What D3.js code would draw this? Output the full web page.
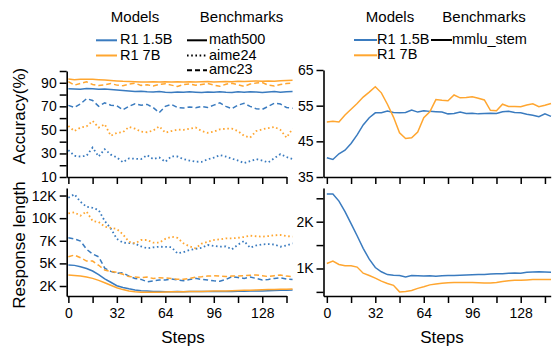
<!DOCTYPE html>
<html>
<head>
<meta charset="utf-8">
<script src="https://cdn.jsdelivr.net/npm/d3@7"></script>
<style>
  body { margin: 0; background: #fff; }
  svg text { font-family: "Liberation Sans", Arial, Helvetica, sans-serif; }
</style>
</head>
<body>
<div id="chart"></div>
<script>
// training steps (sampled every 4 steps)
const steps = [0, 4, 8, 12, 16, 20, 24, 28, 32, 36, 40, 44, 48, 52, 56, 60, 64, 68, 72, 76,
  80, 84, 88, 92, 96, 100, 104, 108, 112, 116, 120, 124, 128, 132, 136, 140, 144, 148];

const models = ['R1 1.5B', 'R1 7B'];
const modelColors = ['#3a7bbf', '#ffa630'];
const benchmarksLeft = ['math500', 'aime24', 'amc23'];
const benchmarksRight = ['mmlu_stem'];

// accuracy (%) - left top
const accMath500_15B = [85.0, 84.8, 84.5, 85.2, 84.9, 84.6, 84.7, 84.2, 83.8, 83.5, 83.0, 82.6, 82.9, 82.4, 82.1, 82.5, 82.0, 81.8, 82.2, 81.9,
  82.3, 82.0, 81.7, 82.1, 81.9, 82.4, 82.0, 81.8, 82.3, 82.0, 82.4, 82.1, 81.8, 82.2, 82.5, 82.0, 82.3, 82.6];
const accMath500_7B = [93.2, 92.5, 93.0, 93.1, 92.9, 92.6, 92.4, 92.0, 91.6, 91.2, 91.0, 90.8, 90.7, 90.6, 90.8, 90.7, 90.9, 90.6, 90.8, 90.7,
  90.9, 90.6, 90.8, 91.0, 90.7, 90.9, 91.0, 90.8, 91.2, 91.0, 91.3, 91.5, 91.2, 91.6, 91.4, 91.8, 92.0, 92.2];
const accAime24_15B = [32.8, 28, 27.4, 28, 35, 27.4, 33.6, 29, 26.6, 22.5, 25.8, 25.5, 25.2, 28.5, 25.2, 26.6, 22.9, 27.5, 27.4, 25.2,
  24, 23, 22.9, 25, 26.5, 28.5, 27.4, 25.5, 24, 21.8, 23.5, 25.2, 24, 22.4, 26, 29.4, 27, 25.2];
const accAime24_7B = [53.3, 49, 52, 53, 57.6, 52, 54.8, 45, 47.5, 48, 52.5, 51, 48.5, 48, 49.5, 53, 47.7, 49, 50.2, 50,
  51, 52, 49, 47.5, 48.5, 50.5, 51, 51, 49, 45, 43.5, 49, 50.5, 51.5, 52.5, 50, 43.5, 51];
const accAmc23_15B = [70.8, 69, 72, 76.5, 75, 70, 73, 71, 70.5, 67, 70, 72.2, 71, 71.6, 69, 64.6, 70, 71.6, 69, 68.5,
  69.5, 68.8, 70, 69, 71, 73, 70, 68, 71, 72.5, 70, 68, 67.4, 70, 72.6, 72, 69, 68.4];
const accAmc23_7B = [91.0, 88.0, 89.5, 90.8, 88.6, 87.6, 88.2, 89.4, 88.0, 87.5, 88.8, 89.6, 87.8, 88.4, 87.2, 88.6, 89.2, 88.0, 86.8, 88.5,
  89.0, 87.9, 88.6, 89.4, 88.1, 87.0, 88.8, 89.6, 88.3, 86.9, 88.9, 89.8, 90.2, 88.0, 87.2, 88.6, 89.4, 89.8];

// response length (tokens) - left bottom
const lenMath500_15B = [4630, 4590, 4450, 4250, 3990, 3600, 3150, 2800, 2430, 2250, 2100, 1980, 1900, 1860, 1830, 1810, 1800, 1800, 1810, 1800,
  1810, 1820, 1810, 1820, 1830, 1820, 1830, 1820, 1840, 1850, 1860, 1870, 1880, 1900, 1920, 1940, 1960, 1980];
const lenMath500_7B = [3570, 3520, 3460, 3350, 3210, 3000, 2750, 2480, 2220, 2020, 1880, 1800, 1740, 1730, 1730, 1740, 1760, 1780, 1790, 1800,
  1810, 1820, 1830, 1840, 1860, 1870, 1880, 1900, 1920, 1940, 1960, 1980, 2000, 2020, 2040, 2050, 2060, 2080];
const lenAime24_15B = [11770, 12130, 11340, 10800, 10700, 10460, 9300, 8500, 7400, 7000, 6950, 6900, 6600, 6400, 6500, 6570, 6550, 6520, 5870, 6000,
  6220, 6350, 6460, 6750, 6650, 6570, 6600, 6290, 6800, 7170, 6460, 6700, 6820, 6850, 6800, 6570, 6700, 6930];
const lenAime24_7B = [10110, 10220, 9860, 10300, 9300, 9200, 8700, 8560, 8450, 7880, 7100, 6930, 7280, 7280, 7000, 7000, 7400, 7630, 7500, 6930,
  6600, 6400, 6900, 7100, 7280, 7350, 7460, 7450, 7520, 7600, 7740, 7680, 7630, 7700, 7780, 7810, 7700, 7630];
const lenAmc23_15B = [7520, 7400, 7170, 6300, 5800, 5500, 4300, 3950, 3750, 3800, 3450, 3200, 3100, 2850, 2950, 3040, 3050, 3140, 3050, 2950,
  3100, 3210, 3100, 3040, 2950, 2900, 3100, 3390, 3300, 3210, 3350, 3200, 3040, 3100, 3200, 3280, 3150, 3100];
const lenAmc23_7B = [5510, 5690, 5400, 5050, 5050, 4600, 4100, 3950, 3850, 3640, 3400, 3350, 3280, 3350, 3200, 3280, 3250, 3200, 3110, 3120,
  3200, 3350, 3390, 3450, 3490, 3450, 3400, 3450, 3470, 3500, 3540, 3570, 3500, 3400, 3500, 3570, 3450, 3390];

// mmlu_stem - right panels
const mmluAcc_15B = [40.4, 39.9, 41.5, 42.5, 44.4, 46.8, 49.6, 51.6, 53, 53, 53.5, 53.1, 53, 53.1, 53.8, 53.2, 53.6, 53.4, 53.3, 53.2,
  52.7, 52.8, 53.2, 52.8, 52.9, 52.7, 52.8, 52.9, 52.8, 53.3, 53.4, 53.1, 53.0, 52.6, 52.3, 51.9, 52.7, 52.0];
const mmluAcc_7B = [50.4, 50.6, 50.4, 52.4, 54, 55.6, 57.4, 58.8, 60.3, 58.6, 55.4, 51.8, 47.4, 45.8, 46, 47.6, 51.6, 53.3, 56.7, 56.5,
  56.4, 58, 57.2, 57.3, 57.5, 57.1, 56.6, 53.7, 53.6, 55.4, 54.8, 54.8, 54.7, 55.2, 55.5, 54.7, 55.1, 55.6];
const mmluLen_15B = [2594, 2594, 2440, 2215, 1960, 1700, 1430, 1200, 1020, 930, 870, 856, 850, 820, 850, 845, 840, 845, 835, 845,
  850, 848, 855, 860, 865, 870, 870, 880, 885, 890, 900, 905, 900, 920, 925, 928, 925, 920];
const mmluLen_7B = [1107, 1157, 1086, 1060, 1056, 1030, 900, 850, 795, 730, 680, 640, 500, 510, 530, 575, 610, 650, 670, 683,
  695, 700, 700, 700, 700, 695, 688, 690, 700, 720, 740, 750, 750, 755, 762, 765, 765, 765];

// tick values
const xTicks = [0, 16, 32, 48, 64, 80, 96, 112, 128, 144];
const xLabels = [0, 32, 64, 96, 128];
const accTicks = [10, 20, 30, 40, 50, 60, 70, 80, 90, 100];
const accLabels = [10, 30, 50, 70, 90];
const lenTicks = [2400, 4800, 7200, 9600, 12000];
const mmluAccTicks = [35, 45, 55, 65];
const mmluLenTicks = [500, 1000, 1500, 2000, 2500];
const mmluLenLabels = [1000, 2000];

const dashFor = { math500: null, aime24: '1.6,2.6', amc23: '5,3', mmlu_stem: null };

const svg = d3.select('#chart').append('svg')
  .attr('width', 555)
  .attr('height', 355);

// scales (left / right column share the same step spacing)
const xLeft = d3.scaleLinear().domain([-1.1, 144]).range([66.7, 286.5]);
const xRight = d3.scaleLinear().domain([-2.2, 147.8]).range([323.5, 550.7]);

const yAccLeft = d3.scaleLinear().domain([10, 100]).range([177, 71]);
const yLenLeft = d3.scaleLinear().domain([1340, 12800]).range([296, 188]);
const yAccRight = d3.scaleLinear().domain([35, 65]).range([177, 70]);
const yLenRight = d3.scaleLinear().domain([412, 2720]).range([296, 188]);

function styleAxis(g) {
  g.selectAll('.domain').attr('stroke', '#000').attr('stroke-width', 1.6);
  g.selectAll('.tick line').attr('stroke', '#000').attr('stroke-width', 1.5);
  g.selectAll('.tick text').attr('font-size', 14).attr('fill', '#000')
    .style('font-family', '"Liberation Sans", Arial, sans-serif');
}

function drawPanel(x, y, xAxisY, yTickVals, yFmt, showXLabels, series) {
  const xAxis = d3.axisBottom(x).tickValues(xTicks).tickSizeInner(7).tickSizeOuter(0).tickPadding(5)
    .tickFormat((d) => (showXLabels && xLabels.includes(d) ? d : ''));
  svg.append('g')
    .attr('transform', `translate(0, ${xAxisY})`)
    .call(xAxis)
    .call(styleAxis);

  const yAxis = d3.axisLeft(y).tickValues(yTickVals).tickSizeInner(7).tickSizeOuter(0).tickPadding(3)
    .tickFormat(yFmt);
  svg.append('g')
    .attr('transform', `translate(${x.range()[0]}, 0)`)
    .call(yAxis)
    .call(styleAxis);

  series.forEach((s) => {
    const line = d3.line()
      .x((d, i) => x(steps[i]))
      .y((d) => y(d));
    svg.append('path')
      .datum(s.values)
      .attr('fill', 'none')
      .attr('stroke', modelColors[s.model])
      .attr('stroke-width', s.dash === '1.6,2.6' ? 1.8 : 1.5)
      .attr('stroke-dasharray', s.dash)
      .attr('d', line);
  });
}

// left top: accuracy
drawPanel(xLeft, yAccLeft, 177, accTicks, (d) => (accLabels.includes(d) ? d : ''), false, [
  { values: accAime24_15B, model: 0, dash: dashFor.aime24 },
  { values: accAime24_7B, model: 1, dash: dashFor.aime24 },
  { values: accAmc23_15B, model: 0, dash: dashFor.amc23 },
  { values: accAmc23_7B, model: 1, dash: dashFor.amc23 },
  { values: accMath500_15B, model: 0, dash: dashFor.math500 },
  { values: accMath500_7B, model: 1, dash: dashFor.math500 },
]);

// left bottom: response length
drawPanel(xLeft, yLenLeft, 296, lenTicks, (d) => Math.round(d / 1000) + 'K', true, [
  { values: lenAime24_15B, model: 0, dash: dashFor.aime24 },
  { values: lenAime24_7B, model: 1, dash: dashFor.aime24 },
  { values: lenAmc23_15B, model: 0, dash: dashFor.amc23 },
  { values: lenAmc23_7B, model: 1, dash: dashFor.amc23 },
  { values: lenMath500_15B, model: 0, dash: dashFor.math500 },
  { values: lenMath500_7B, model: 1, dash: dashFor.math500 },
]);

// right top: mmlu accuracy
drawPanel(xRight, yAccRight, 177, mmluAccTicks, (d) => d, false, [
  { values: mmluAcc_15B, model: 0, dash: null },
  { values: mmluAcc_7B, model: 1, dash: null },
]);

// right bottom: mmlu response length
drawPanel(xRight, yLenRight, 296, mmluLenTicks, (d) => (mmluLenLabels.includes(d) ? d / 1000 + 'K' : ''), true, [
  { values: mmluLen_15B, model: 0, dash: null },
  { values: mmluLen_7B, model: 1, dash: null },
]);

// axis titles
function label(txt, x, y, rotate) {
  svg.append('text')
    .attr('transform', `translate(${x}, ${y})` + (rotate ? ' rotate(-90)' : ''))
    .attr('text-anchor', 'middle')
    .attr('font-size', 17)
    .attr('fill', '#000')
    .text(txt);
}
label('Accuracy(%)', 25, 116, true);
label('Response length', 25, 245, true);
label('Steps', 183, 343, false);
label('Steps', 442, 343, false);

// legends
function legend(cfg) {
  const g = svg.append('g');
  g.append('text').attr('x', cfg.modelsX).attr('y', 21.5).attr('text-anchor', 'middle')
    .attr('font-size', 15).text('Models');
  g.append('text').attr('x', cfg.benchX).attr('y', 21.5).attr('text-anchor', 'middle')
    .attr('font-size', 15).text('Benchmarks');
  models.forEach((m, i) => {
    const yy = cfg.rowY[i];
    g.append('line').attr('x1', cfg.mLine[0]).attr('x2', cfg.mLine[1])
      .attr('y1', yy - 4).attr('y2', yy - 4)
      .attr('stroke', modelColors[i]).attr('stroke-width', 2);
    g.append('text').attr('x', cfg.mText).attr('y', yy).attr('font-size', 14.5).text(m);
  });
  cfg.benchmarks.forEach((b, i) => {
    const yy = cfg.rowY[i];
    g.append('line').attr('x1', cfg.bLine[0]).attr('x2', cfg.bLine[1])
      .attr('y1', yy - 4).attr('y2', yy - 4)
      .attr('stroke', '#000').attr('stroke-width', 2)
      .attr('stroke-dasharray', dashFor[b]);
    g.append('text').attr('x', cfg.bText).attr('y', yy).attr('font-size', 14.5).text(b);
  });
}

legend({
  modelsX: 135, benchX: 241.5, rowY: [44.3, 59.5, 74.3],
  mLine: [96, 117], mText: 120, bLine: [187, 207], bText: 209,
  benchmarks: benchmarksLeft,
});
legend({
  modelsX: 390, benchX: 484, rowY: [44, 59.3],
  mLine: [354, 377], mText: 377, bLine: [431, 452], bText: 452,
  benchmarks: benchmarksRight,
});
</script>
</body>
</html>
